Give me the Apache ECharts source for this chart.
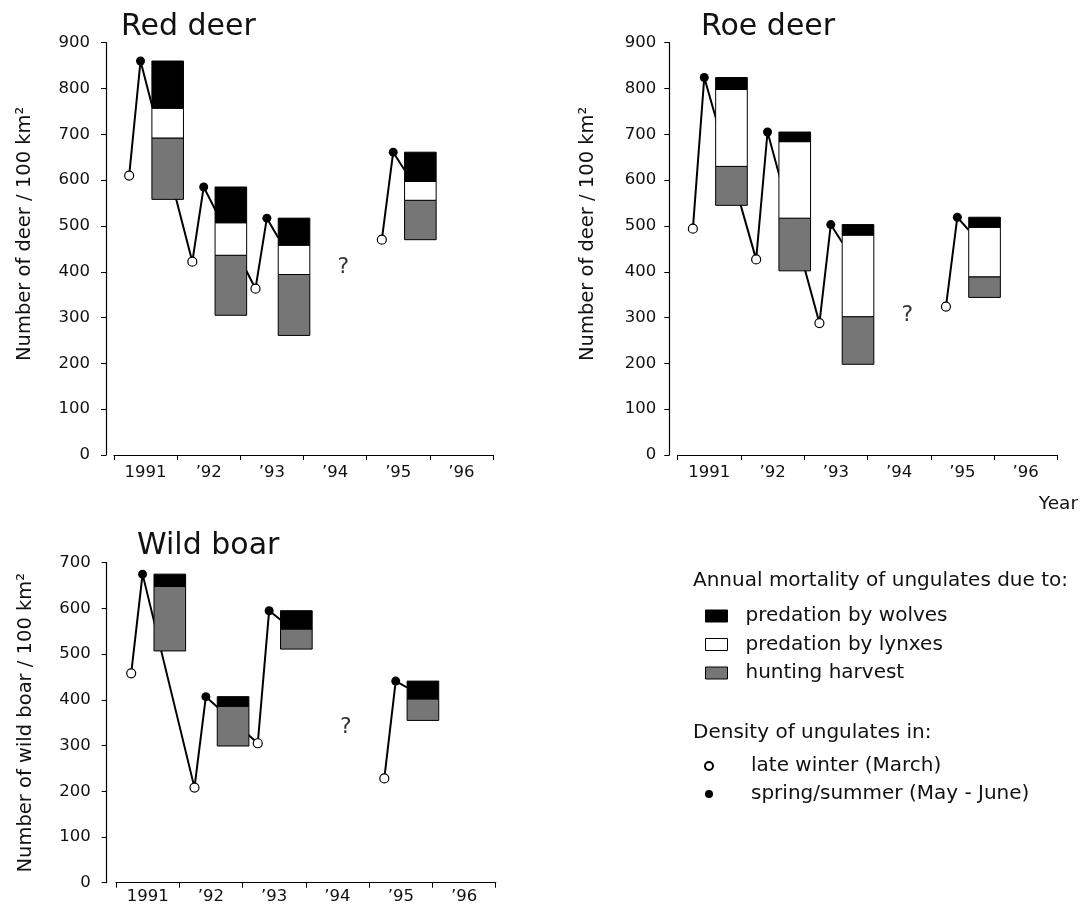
<!DOCTYPE html>
<html>
<head>
<meta charset="utf-8">
<title>Ungulate density and mortality</title>
<script src="https://cdn.jsdelivr.net/npm/echarts@6/dist/echarts.min.js"></script>
<style>
html, body { margin: 0; padding: 0; background: #fff; }
#main { width: 1081px; height: 909px; }
</style>
</head>
<body>
<div id="main"></div>
<script>
// x axis labels (one per year band)
var yearLabels = ['1991', '\u201992', '\u201993', '\u201994', '\u201995', '\u201996'];
var years = [1991, 1992, 1993, 1995];
// time of year where each thing is plotted
var tWinter = 0.24, tSpring = 0.42, tTail = 0.6, tBarFrom = 0.6, tBarTo = 1.1, tQuestion = 3.63;

// Red deer
var redWinter = [610, 422, 363, 470];
var redSpring = [860, 585, 517, 661];
var redWolves = [103, 78, 59, 64];
var redLynx = [65, 71, 64, 41];
var redHunt = [134, 131, 133, 86];
var redTail = [null, null, 474, 622];   // line runs on behind the bar, no next winter
var redQuestion = 410;

// Roe deer
var roeWinter = [494, 427, 288, 324];
var roeSpring = [824, 705, 503, 519];
var roeWolves = [26, 21, 23, 22];
var roeLynx = [168, 167, 178, 108];
var roeHunt = [85, 115, 104, 45];
var roeTail = [null, null, 464, 491];
var roeQuestion = 306;

// Wild boar
var boarWinter = [458, 208, 305, 228];
var boarSpring = [675, 407, 595, 441];
var boarWolves = [27, 21, 40, 39];
var boarLynx = [0, 0, 0, 0];
var boarHunt = [141, 87, 44, 47];
var boarTail = [null, null, 575, 427];
var boarQuestion = 339;

var FONT = "'DejaVu Sans', Verdana, sans-serif";
var GRAY = '#767676';

var mycharts = echarts.init(document.getElementById('main'));

// 画柱子: data = [x0, x1, low, high]
function renderBlock(params, api) {
    var p0 = api.coord([api.value(0), api.value(3)]);
    var p1 = api.coord([api.value(1), api.value(2)]);
    var style = api.style();
    return {
        type: 'rect',
        shape: { x: p0[0], y: p0[1], width: p1[0] - p0[0], height: p1[1] - p0[1] },
        style: { fill: style.fill, stroke: '#000', lineWidth: 1 }
    };
}

function makeSeries(idx, winter, spring, wolves, lynx, hunt, tail, question) {
    var list = [];
    // 折线: 冬季 -> 春季 -> 下一个冬季
    var seg = [];
    for (var i = 0; i < years.length; i++) {
        seg.push([years[i] + tWinter, winter[i]]);
        seg.push([years[i] + tSpring, spring[i]]);
        if (tail[i] != null) {
            seg.push([years[i] + tTail, tail[i]]);
            list.push({
                type: 'line', name: 'density line', xAxisIndex: idx * 2, yAxisIndex: idx,
                data: seg, symbol: 'none', z: 1, silent: true,
                lineStyle: { color: '#000', width: 2 }
            });
            seg = [];
        }
    }
    // 柱子从春季密度往下叠: 狼 / 猞猁 / 狩猎
    var w = [], l = [], h = [];
    for (var j = 0; j < years.length; j++) {
        var x0 = years[j] + tBarFrom, x1 = years[j] + tBarTo;
        var top = spring[j];
        var a = top - wolves[j];
        var b = a - lynx[j];
        var c = b - hunt[j];
        w.push([x0, x1, a, top]);
        if (lynx[j] > 0) l.push([x0, x1, b, a]);
        h.push([x0, x1, c, b]);
    }
    var blocks = [
        { name: 'hunting harvest', data: h, color: GRAY },
        { name: 'predation by lynxes', data: l, color: '#fff' },
        { name: 'predation by wolves', data: w, color: '#000' }
    ];
    blocks.forEach(function (bk) {
        list.push({
            type: 'custom', name: bk.name, xAxisIndex: idx * 2, yAxisIndex: idx,
            data: bk.data, renderItem: renderBlock, z: 2,
            encode: { x: [0, 1], y: [2, 3] },
            itemStyle: { color: bk.color, borderColor: '#000', borderWidth: 1 }
        });
    });

    var wp = [], sp = [];
    for (var k = 0; k < years.length; k++) {
        wp.push([years[k] + tWinter, winter[k]]);
        sp.push([years[k] + tSpring, spring[k]]);
    }
    list.push({
        type: 'scatter', name: 'late winter (March)', xAxisIndex: idx * 2, yAxisIndex: idx,
        data: wp, symbol: 'circle', symbolSize: 9, z: 3,
        itemStyle: { color: '#fff', borderColor: '#000', borderWidth: 1.2, opacity: 1 }
    });
    list.push({
        type: 'scatter', name: 'spring/summer (May - June)', xAxisIndex: idx * 2, yAxisIndex: idx,
        data: sp, symbol: 'circle', symbolSize: 9, z: 3,
        itemStyle: { color: '#000', opacity: 1 }
    });
    // 问号
    list.push({
        type: 'scatter', name: 'unknown', xAxisIndex: idx * 2, yAxisIndex: idx,
        data: [[1991 + tQuestion, question]], symbolSize: 1, z: 3, silent: true,
        itemStyle: { color: 'rgba(0,0,0,0)' },
        label: { show: true, position: 'inside', formatter: '?', color: '#000', fontSize: 22, fontFamily: FONT }
    });
    return list;
}

var grids = [
    { left: 114, top: 42.7, width: 379, height: 412.3 },
    { left: 677.7, top: 42.7, width: 379.6, height: 412.3 },
    { left: 116, top: 562.7, width: 379.7, height: 320 }
];
var yMax = [900, 900, 700];
var yNames = ['Number of deer / 100 km\u00b2', 'Number of deer / 100 km\u00b2', 'Number of wild boar / 100 km\u00b2'];
var yOffset = [8, 8.4, 9.3];
var yLabelMargin = [16, 13, 16];
var yNameShift = [30, 30, 0];   // 名字往上挪一点
var xLabelMargin = [9, 9, 6];

var xAxes = [], yAxes = [];
grids.forEach(function (g, i) {
    g.outerBoundsMode = 'none';
    xAxes.push({
        type: 'value', gridIndex: i, position: 'bottom', min: 1991, max: 1997, interval: 1,
        axisLine: { show: true, lineStyle: { color: '#000', width: 1.2 } },
        axisTick: { show: true, length: 5, lineStyle: { color: '#000' } },
        axisLabel: { show: false }, splitLine: { show: false }
    });
    xAxes.push({
        type: 'category', gridIndex: i, position: 'bottom', data: yearLabels, boundaryGap: true,
        axisLine: { show: false }, axisTick: { show: false },
        axisLabel: { color: '#111', fontSize: 16.5, fontFamily: FONT, margin: xLabelMargin[i] }
    });
    yAxes.push({
        type: 'value', gridIndex: i, min: 0, max: yMax[i], interval: 100, offset: yOffset[i],
        name: yNames[i], nameLocation: 'middle', nameGap: 71, nameRotate: 90,
        nameTextStyle: { color: '#111', fontSize: 19.5, fontFamily: FONT, padding: [0, 0, 0, yNameShift[i]] },
        axisLine: { show: true, lineStyle: { color: '#000', width: 1.2 } },
        axisTick: { show: true, length: 5, lineStyle: { color: '#000' } },
        axisLabel: { color: '#111', fontSize: 16.5, fontFamily: FONT, margin: yLabelMargin[i] },
        splitLine: { show: false }
    });
});

var series = []
    .concat(makeSeries(0, redWinter, redSpring, redWolves, redLynx, redHunt, redTail, redQuestion))
    .concat(makeSeries(1, roeWinter, roeSpring, roeWolves, roeLynx, roeHunt, roeTail, roeQuestion))
    .concat(makeSeries(2, boarWinter, boarSpring, boarWolves, boarLynx, boarHunt, boarTail, boarQuestion));

var titleStyle = { color: '#111', fontSize: 30, fontWeight: 'normal', fontFamily: FONT };
var legendText = { color: '#111', fontSize: 20, fontFamily: FONT, lineHeight: 20 };

var option = {
    animation: false,
    backgroundColor: '#fff',
    title: [
        { text: 'Red deer', left: 116, top: 7, textStyle: titleStyle },
        { text: 'Roe deer', left: 696, top: 7, textStyle: titleStyle },
        { text: 'Wild boar', left: 132, top: 526, textStyle: titleStyle }
    ],
    grid: grids,
    xAxis: xAxes,
    yAxis: yAxes,
    legend: [
        {
            orient: 'vertical', left: 700, top: 601, itemWidth: 22, itemHeight: 12, itemGap: 8.5,
            icon: 'rect', selectedMode: false,
            data: ['predation by wolves', 'predation by lynxes', 'hunting harvest'],
            itemStyle: { borderColor: '#000', borderWidth: 1 },
            textStyle: Object.assign({ padding: [0, 0, 0, 13] }, legendText)
        },
        {
            orient: 'vertical', left: 699, top: 751, itemWidth: 8, itemHeight: 8, itemGap: 8,
            selectedMode: false,
            data: ['late winter (March)', 'spring/summer (May - June)'],
            textStyle: Object.assign({ padding: [0, 0, 0, 33] }, legendText)
        }
    ],
    graphic: [
        { type: 'text', left: 693, top: 571, style: { text: 'Annual mortality of ungulates due to:', fill: '#111', font: '20px ' + FONT } },
        { type: 'text', left: 693, top: 723, style: { text: 'Density of ungulates in:', fill: '#111', font: '20px ' + FONT } },
        { type: 'text', right: 3, top: 495, style: { text: 'Year', fill: '#111', font: '18.5px ' + FONT } }
    ],
    series: series
};
mycharts.setOption(option);
window.addEventListener('resize', function () {
    mycharts.resize();
});
</script>
</body>
</html>
